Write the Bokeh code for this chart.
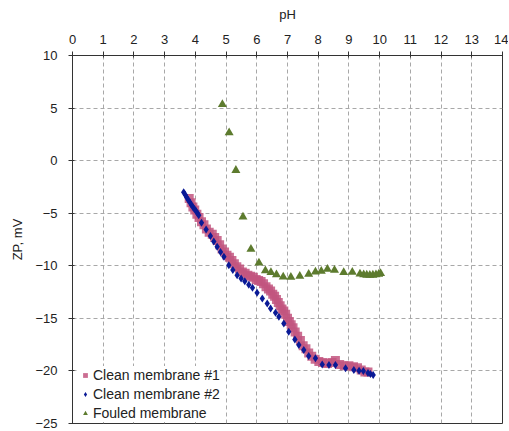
from bokeh.plotting import figure
from bokeh.models import Legend, LegendItem, FixedTicker, Range1d
from bokeh.embed import file_html
from bokeh.resources import INLINE

# Clean membrane #1 (squares)
ph1 = [3.80, 3.86, 3.92, 3.98, 4.05, 4.12, 4.20, 4.28, 4.36, 4.45, 4.55, 4.63, 4.71, 4.79,
       4.87, 4.95, 5.03, 5.11, 5.19, 5.27, 5.35, 5.44, 5.53, 5.62, 5.71, 5.80, 5.89, 5.98,
       6.06, 6.14, 6.22, 6.30, 6.38, 6.45, 6.52, 6.58, 6.64, 6.70, 6.76, 6.82, 6.88, 6.94,
       7.00, 7.06, 7.12, 7.18, 7.25, 7.33, 7.42, 7.51, 7.60, 7.69, 7.79, 7.90, 8.02, 8.15,
       8.30, 8.45, 8.56, 8.70, 8.85, 9.00, 9.15, 9.28, 9.40, 9.52, 9.62]
zp1 = [-3.6, -4.0, -4.4, -4.7, -5.1, -5.4, -5.8, -6.1, -6.5, -6.8, -7.0, -7.3, -7.6, -8.0,
       -8.4, -8.7, -9.0, -9.2, -9.5, -9.8, -10.1, -10.3, -10.6, -10.7, -10.9, -11.0, -11.1, -11.3,
       -11.4, -11.5, -11.7, -12.0, -12.2, -12.4, -12.7, -12.9, -13.2, -13.5, -13.8, -14.1, -14.3, -14.6,
       -15.0, -15.3, -15.6, -15.9, -16.3, -16.7, -17.1, -17.6, -17.9, -18.3, -18.6, -18.9, -19.1, -19.2,
       -19.3, -19.2, -19.0, -19.4, -19.5, -19.5, -19.6, -19.7, -19.9, -20.1, -20.1]

# Clean membrane #2 (diamonds)
ph2 = [3.62, 3.67, 3.72, 3.77, 3.82, 3.87, 3.92, 3.97, 4.02, 4.07, 4.11, 4.20, 4.35, 4.49,
       4.60, 4.71, 4.82, 4.93, 5.09, 5.22, 5.36, 5.49, 5.61, 5.74, 5.86, 6.01, 6.18, 6.34,
       6.45, 6.61, 6.72, 6.88, 7.04, 7.24, 7.37, 7.53, 7.69, 7.91, 8.13, 8.35, 8.56, 8.89,
       9.16, 9.33, 9.47, 9.62, 9.70, 9.79]
zp2 = [-3.0, -3.25, -3.5, -3.75, -3.95, -4.2, -4.4, -4.6, -4.8, -5.0, -5.2, -5.9, -6.55, -7.16,
       -7.7, -8.2, -8.7, -9.15, -9.94, -10.4, -10.9, -11.2, -11.46, -11.8, -12.1, -12.57, -13.1, -13.58,
       -14.06, -14.47, -14.85, -15.48, -16.28, -17.0, -17.54, -18.02, -18.58, -18.8, -19.38, -19.44, -19.44, -19.75,
       -19.91, -19.98, -20.0, -20.2, -20.29, -20.39]

# Fouled membrane (triangles)
ph3 = [4.88, 5.10, 5.32, 5.55, 5.81, 6.07, 6.28, 6.46, 6.64, 6.86, 7.11, 7.40, 7.69, 7.91,
       8.10, 8.30, 8.53, 8.83, 9.11, 9.36, 9.48, 9.58, 9.68, 9.78, 9.88, 9.97, 10.03]
zp3 = [5.35, 2.66, -0.92, -5.36, -8.42, -9.72, -10.47, -10.64, -10.85, -11.06, -11.08, -10.99, -10.80, -10.58,
       -10.51, -10.32, -10.42, -10.64, -10.61, -10.77, -10.85, -10.88, -10.90, -10.88, -10.85, -10.80, -10.72]

x_ticks = list(range(0, 15))
y_ticks = [-25, -20, -15, -10, -5, 0, 5, 10]
series_names = ["Clean membrane #1", "Clean membrane #2", "Fouled membrane"]

FONT = "Liberation Sans"

p = figure(width=508, height=430, output_backend="svg", toolbar_location=None,
           x_axis_location="above", x_range=Range1d(0, 14), y_range=Range1d(-25, 10),
           min_border_left=72, min_border_right=6, min_border_top=55, min_border_bottom=7)

p.background_fill_color = "white"
p.border_fill_color = "white"
p.outline_line_color = "#333333"
p.outline_line_width = 1

for ax in (p.xaxis[0], p.yaxis[0]):
    ax.axis_line_color = "#333333"
    ax.major_tick_line_color = "#333333"
    ax.minor_tick_line_color = None
    ax.major_tick_in = 2
    ax.major_tick_out = 4
    ax.major_label_text_font = FONT
    ax.major_label_text_font_size = "13px"
    ax.major_label_text_color = "#222222"
    ax.major_label_standoff = 8
    ax.axis_label_text_font = FONT
    ax.axis_label_text_font_size = "13px"
    ax.axis_label_text_font_style = "normal"
    ax.axis_label_text_color = "#222222"

p.xaxis.ticker = FixedTicker(ticks=x_ticks)
p.yaxis.ticker = FixedTicker(ticks=y_ticks)
p.xaxis.axis_label = "pH"
p.yaxis.axis_label = "ZP, mV"
p.xaxis.axis_label_standoff = 10
p.yaxis.major_label_standoff = 11
p.yaxis.axis_label_standoff = 7

for g in (p.xgrid[0], p.ygrid[0]):
    g.grid_line_color = "#a8a8a8"
    g.grid_line_dash = "4 3"
    g.grid_line_width = 1
p.xgrid.ticker = FixedTicker(ticks=x_ticks)
p.ygrid.ticker = FixedTicker(ticks=y_ticks)

r1 = p.scatter(ph1, zp1, marker="square", size=9, fill_color="#c2557f", fill_alpha=0.85,
               line_color=None)
r2 = p.scatter(ph2, zp2, marker="diamond", size=8, fill_color="#0a1a96", line_color=None)
r3 = p.scatter(ph3, zp3, marker="triangle", size=9, fill_color="#5d7b2e", line_color=None)

legend = Legend(items=[LegendItem(label=series_names[0], renderers=[r1]),
                       LegendItem(label=series_names[1], renderers=[r2]),
                       LegendItem(label=series_names[2], renderers=[r3])],
                location=(7, 1))
legend.border_line_color = None
legend.background_fill_color = "white"
legend.background_fill_alpha = 1
legend.label_text_font = FONT
legend.label_text_font_size = "14px"
legend.label_text_color = "#222222"
legend.glyph_width = 12
legend.glyph_height = 18
legend.label_height = 18
legend.label_standoff = 2
legend.spacing = 1
legend.padding = 4
legend.margin = 0
p.add_layout(legend, "center")

open("out.html", "w").write(file_html(p, INLINE))
